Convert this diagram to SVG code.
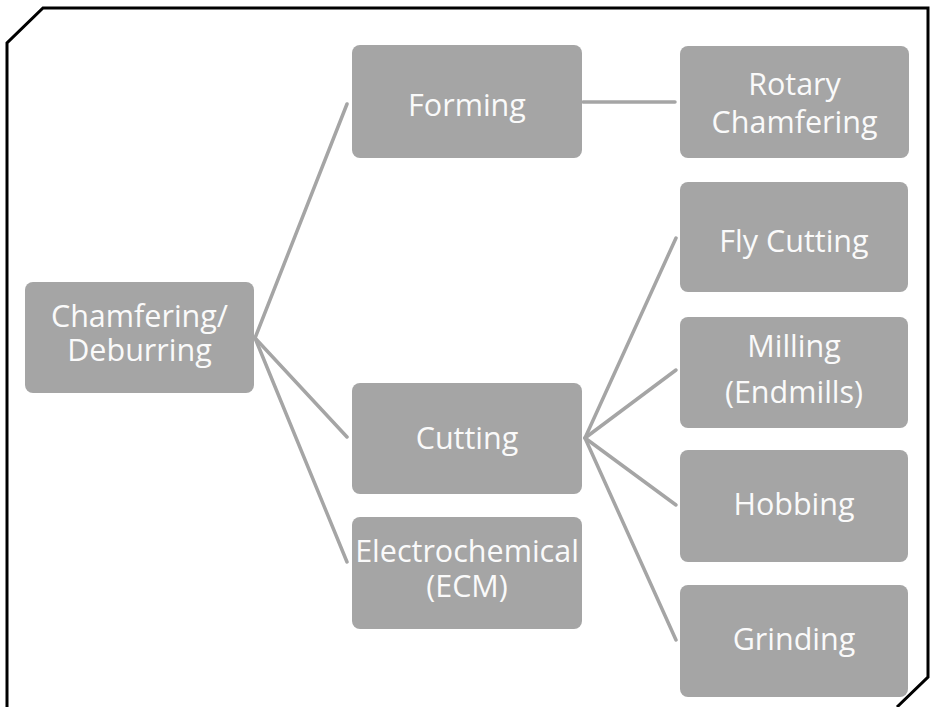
<svg xmlns="http://www.w3.org/2000/svg" width="934" height="707" viewBox="0 0 934 707">
<style>
.box{fill:#a5a5a5;}
.t{font-family:"Open Sans","Noto Sans",sans-serif;font-size:30.5px;fill:#fafafa;text-anchor:middle;}
.c{stroke:#a5a5a5;stroke-width:3.5;fill:none;stroke-linecap:round;}
</style>
<rect width="934" height="707" fill="#ffffff"/>
<path d="M7,707 L7,43 L43,8 L928,8 L928,677 L897,707" fill="none" stroke="#000" stroke-width="3"/>
<g id="connectors">
<line class="c" x1="255" y1="338" x2="347" y2="104"/>
<line class="c" x1="255" y1="338" x2="347" y2="437"/>
<line class="c" x1="255" y1="338" x2="347" y2="562"/>
<line class="c" x1="583" y1="102" x2="675" y2="102"/>
<line class="c" x1="585" y1="438" x2="676" y2="238"/>
<line class="c" x1="585" y1="438" x2="676" y2="370"/>
<line class="c" x1="585" y1="438" x2="676" y2="505"/>
<line class="c" x1="585" y1="438" x2="676" y2="640"/>
</g>
<g id="chamfering">
<rect class="box" x="25" y="282" width="229" height="111" rx="8"/>
<text class="t" x="139.5" y="327">Chamfering/</text>
<text class="t" x="139.5" y="361">Deburring</text>
</g>
<g id="forming">
<rect class="box" x="352" y="45" width="230" height="113" rx="8"/>
<text class="t" x="467" y="116">Forming</text>
</g>
<g id="cutting">
<rect class="box" x="352" y="383" width="230" height="111" rx="8"/>
<text class="t" x="467" y="449">Cutting</text>
</g>
<g id="ecm">
<rect class="box" x="352" y="517" width="230" height="112" rx="8"/>
<text class="t" x="467" y="562">Electrochemical</text>
<text class="t" x="467" y="597">(ECM)</text>
</g>
<g id="rotary">
<rect class="box" x="680" y="46" width="229" height="112" rx="8"/>
<text class="t" x="794.5" y="95">Rotary</text>
<text class="t" x="794.5" y="133">Chamfering</text>
</g>
<g id="flycutting">
<rect class="box" x="680" y="182" width="228" height="110" rx="8"/>
<text class="t" x="794" y="252">Fly Cutting</text>
</g>
<g id="milling">
<rect class="box" x="680" y="317" width="228" height="111" rx="8"/>
<text class="t" x="794" y="357">Milling</text>
<text class="t" x="794" y="403">(Endmills)</text>
</g>
<g id="hobbing">
<rect class="box" x="680" y="450" width="228" height="112" rx="8"/>
<text class="t" x="794" y="515">Hobbing</text>
</g>
<g id="grinding">
<rect class="box" x="680" y="585" width="228" height="112" rx="8"/>
<text class="t" x="794" y="650">Grinding</text>
</g>
</svg>
